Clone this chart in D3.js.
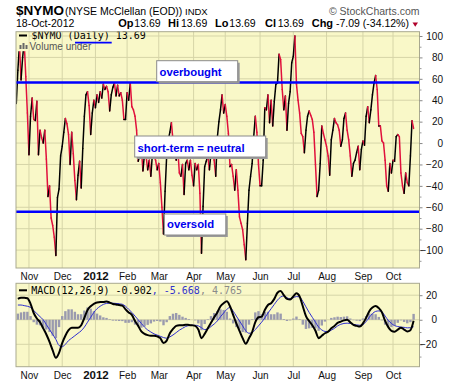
<!DOCTYPE html>
<html>
<head>
<meta charset="utf-8">
<script src="https://cdn.jsdelivr.net/npm/d3@7/dist/d3.min.js"></script>
<style>
body { margin: 0; background: #fff; }
svg text { font-family: "Liberation Sans", Arial, sans-serif; }
.mono { font-family: "DejaVu Sans Mono", monospace; }
</style>
</head>
<body>
<svg id="chart" width="460" height="383"></svg>
<script>
// $NYMO daily close, one value per trading day (20-Oct-2011 .. 18-Oct-2012)
var nymo = [
    37, 68, 92, 59, 80, 94, 62, 28, -11, 25,
    42, 22, 21, 39, -11, 12, 5, 0, 12, -15,
    -50, -40, -70, -77, -88, -105, -51, -43, -12, -3,
    10, 23, 18, 8, -20, 10, -10, -35, -53, -30,
    -17, -42, -5, 25, 45, 48, 35, 8, 28, 40,
    33, 45, 38, 48, 42, 55, 50, 53, 48, 30,
    45, 52, 56, 44, 54, 44, 47, 40, 22, 22,
    47, 40, 56, 34, 31, 25, 12, -17, -12, -5,
    -26, -10, -12, -25, -16, -31, -10, -12, -16, -25,
    -19, -37, -60, -85, -45, -12, 3, 10, 19, 2,
    -8, -16, -5, -28, -31, -20, -48, -19, -16, -25,
    -16, -30, -40, -19, -25, -20, -47, -103, -59, -22,
    -17, -12, -25, -9, -5, -16, -31, 5, 20, 31,
    45, 28, 36, 25, 9, -22, -20, -31, -44, -25,
    -44, -69, -75, -81, -95, -109, -75, -44, -31, -19,
    6, 25, 10, -20, -40, -40, -16, 33, 31, 45,
    19, 40, 16, 39, 55, 56, 83, 78, 50, 31,
    44, 12, 37, 48, 75, 81, 100, 55, 40, 28,
    9, 6, -9, 12, 25, 30, 26, 22, 10, -20,
    -50, -44, -19, 16, 9, 3, -3, -12, -30, 3,
    12, 23, 19, 17, 12, -3, 3, 23, 28, 12,
    3, -12, -31, -19, -16, -9, -3, -25, -6, 2,
    -2, 25, 34, 19, 31, 45, 56, 63, 50, 16,
    16, 2, 0, -16, -40, -45, -19, -28, -16, -17,
    6, 8, 6, -28, -40, -47, -28, -37, -40, -12,
    20.78, 13.69
];

// MACD(12,26,9), read every second trading day (days 1, 3, 5 ... 251)
var macdLine = [
    17, 18, 18, 17.5, 13, 5.5, 1, -2, -7, -12,
    -18, -25, -31, -27, -19, -13, -8.5, -6.5, -6.5, -6.5,
    -4.5, 1.5, 8, 11, 13, 14, 14.5, 14.5, 14.8, 14,
    12.8, 12.5, 12, 11.5, 8.5, 6, 4, -1, -5, -9.5,
    -11.5, -12.5, -13, -13, -13.5, -15, -19, -17, -11, -7.5,
    -5, -4.5, -4.5, -4, -4.2, -4.5, -5, -8, -15, -11.5,
    -7, -2.5, 2, 6, 11, 13.5, 15, 11, 4, -3,
    -9, -15, -19.5, -15, -10, -2, 2, 2.5, 8, 12,
    13.5, 17, 22, 23.5, 20, 17, 16.5, 19, 21.5, 19,
    11, 3, -1, -4.5, -9, -15, -13, -11, -9.7, -7,
    -5, -2.5, -1.5, -0.5, 0, -2, -4.2, -5, -5.6, -3,
    1.5, 7, 10, 11.3, 9.5, 6, -1, -6, -9, -9.7,
    -8, -6.5, -8, -9.5, -8.5, -0.902
];
var signalLine = [
    12, 12, 11.5, 11, 10, 7.5, 5, 2.5, 0, -4,
    -8, -12, -16, -21, -22, -20, -17, -15, -13, -11,
    -9, -6, -2, 2, 6, 9, 11, 12.5, 13.3, 13.5,
    13.5, 13.3, 13, 12.6, 11, 8.5, 6, 3, 0, -3,
    -6, -8.3, -10, -11.5, -12.5, -13.5, -14.5, -15, -14, -12.4,
    -10.5, -8.5, -7, -5.5, -4.8, -4.5, -4.5, -5, -6.5, -8,
    -7.5, -5.5, -3.5, -1, 2.5, 5.5, 8.5, 10, 7, 3,
    -1, -5, -9, -11, -10.5, -8, -5, -2, 1.5, 5.5,
    9, 12.5, 16, 18.5, 19.4, 18, 17, 18, 18.9, 18.5,
    15, 10.5, 6, 2, -2, -6, -8.3, -9.5, -9.7, -8.5,
    -7, -5, -3.7, -3, -2.8, -3, -3.8, -4.2, -4.5, -4,
    -1.5, 2, 5, 6.8, 7.2, 6.5, 3, -0.5, -3, -4.8,
    -5.5, -6, -6.2, -6.6, -6.5, -5.668
];
var macdHist = [
    5, 6, 6.5, 6.5, 3, -2, -4, -4.5, -7, -8,
    -10, -13, -15, -6, 3, 7, 8.5, 8.5, 6.5, 4.5,
    4.5, 7.5, 10, 9, 7, 5, 3.5, 2, 1.5, 0.5,
    -0.7, -0.8, -1, -1.1, -2.5, -2.5, -2, -4, -5, -6.5,
    -5.5, -4.2, -3, -1.5, -1, -1.5, -4.5, -2, 3, 4.9,
    5.5, 4, 2.5, 1.5, 0.6, 0, -0.5, -3, -8.5, -3.5,
    0.5, 3, 5.5, 7, 8.5, 8, 6.5, 1, -3, -6,
    -8, -10, -10.5, -4, 0.5, 6, 7, 4.5, 6.5, 6.5,
    4.5, 4.5, 6, 5, 0.6, -1, -0.5, 1, 2.6, 0.5,
    -4, -7.5, -7, -6.5, -7, -9, -4.7, -1.5, 0, 1.5,
    2, 2.5, 2.2, 2.5, 2.8, 1, -0.4, -0.8, -1.1, 1,
    3, 5, 5, 4.5, 2.3, -0.5, -4, -5.5, -6, -4.9,
    -2.5, -0.5, -1.8, -2.9, -2, 4.765
];

// month labels and the trading day each month starts on
var monthLabels = ["Nov", "Dec", "2012", "Feb", "Mar", "Apr", "May", "Jun", "Jul", "Aug", "Sep", "Oct"];
var monthDay = [8, 29, 50, 70, 90, 112, 132, 154, 175, 196, 219, 238];

var nymoTicks = [-100, -80, -60, -40, -20, 0, 20, 40, 60, 80, 100];
var macdTicks = [-20, 0, 20];
var bandLevels = [56.6, -64.2];
var noteLabels = ["overbought", "short-term = neutral", "oversold"];

// layout
var main = {left: 16, right: 419.5, top: 31.7, bottom: 268};
var lower = {left: 16, right: 419.5, top: 283.3, bottom: 366.7};
var noteBoxes = [
    {x: 156.7, y: 60.7, w: 81, h: 21, tx: 159.5, ty: 75.8},
    {x: 134.7, y: 136, w: 131, h: 21, tx: 137.5, ty: 152},
    {x: 164.3, y: 214, w: 61.5, h: 21, tx: 167, ty: 227.6}
];
var bg = "#f9f8c8", grid = "#d6d5a8", frame = "#a9a98f";

var svg = d3.select("#chart");

var x = d3.scaleLinear().domain([0, nymo.length - 1]).range([16.3, 413.6]);
var y1 = d3.scaleLinear().domain([-100, 100]).range([250.1, 36.0]);
var y2 = d3.scaleLinear().domain([-20, 20]).range([344.3, 295.2]);

function panel(p, y, ticks, id) {
    var g = svg.append("g");
    svg.append("clipPath").attr("id", id).append("rect")
        .attr("x", p.left).attr("y", p.top)
        .attr("width", p.right - p.left).attr("height", p.bottom - p.top);
    g.append("rect")
        .attr("x", p.left).attr("y", p.top)
        .attr("width", p.right - p.left).attr("height", p.bottom - p.top)
        .attr("fill", bg);
    g.selectAll("line.v").data(monthDay).join("line")
        .attr("class", "v")
        .attr("x1", function(d) { return x(d); }).attr("x2", function(d) { return x(d); })
        .attr("y1", p.top).attr("y2", p.bottom)
        .attr("stroke", grid).attr("stroke-width", 1);
    g.selectAll("line.h").data(ticks).join("line")
        .attr("class", "h")
        .attr("x1", p.left).attr("x2", p.right)
        .attr("y1", function(d) { return y(d); }).attr("y2", function(d) { return y(d); })
        .attr("stroke", grid).attr("stroke-width", 1);
    return g.append("g").attr("clip-path", "url(#" + id + ")");
}

function frameRect(p) {
    svg.append("rect")
        .attr("x", p.left).attr("y", p.top)
        .attr("width", p.right - p.left).attr("height", p.bottom - p.top)
        .attr("fill", "none").attr("stroke", frame).attr("stroke-width", 1);
}

function rightAxis(p, y, ticks, labelX, minor) {
    var ax = svg.append("g").attr("transform", "translate(" + p.right + ",0)")
        .call(d3.axisRight(y).tickValues(ticks).tickSize(3));
    ax.select(".domain").remove();
    ax.selectAll("line").attr("stroke", "#888");
    ax.selectAll("text")
        .attr("x", labelX).attr("text-anchor", "end")
        .attr("font-family", "Liberation Sans, Arial, sans-serif")
        .attr("font-size", 10).attr("fill", "#111");
    var mn = svg.append("g").attr("transform", "translate(" + p.right + ",0)")
        .call(d3.axisRight(y).tickValues(minor).tickSize(2).tickFormat(""));
    mn.select(".domain").remove();
    mn.selectAll("line").attr("stroke", "#999");
}

function monthAxis(yBase) {
    var ax = svg.append("g").attr("transform", "translate(0," + yBase + ")")
        .call(d3.axisBottom(x).tickValues(monthDay).tickSize(0)
            .tickFormat(function(d, i) { return monthLabels[i]; }));
    ax.select(".domain").remove();
    ax.selectAll("text")
        .attr("y", 0).attr("dy", 0)
        .attr("font-family", "Liberation Sans, Arial, sans-serif")
        .attr("fill", "#111")
        .attr("font-size", function(d, i) { return monthLabels[i] === "2012" ? 11.5 : 10; })
        .attr("font-weight", function(d, i) { return monthLabels[i] === "2012" ? "bold" : "normal"; });
}

// ---- main panel ----
var g1 = panel(main, y1, nymoTicks, "clipMain");

var segs = d3.pairs(nymo.map(function(v, i) { return [i, v]; }));
g1.selectAll("line.seg").data(segs).join("line")
    .attr("class", "seg")
    .attr("x1", function(d) { return x(d[0][0]); })
    .attr("y1", function(d) { return y1(d[0][1]); })
    .attr("x2", function(d) { return x(d[1][0]); })
    .attr("y2", function(d) { return y1(d[1][1]); })
    .attr("stroke", function(d) { return d[1][1] >= d[0][1] ? "#000" : "#e0103c"; })
    .attr("stroke-width", 1.5)
    .attr("stroke-linecap", "round");

g1.selectAll("line.band").data(bandLevels).join("line")
    .attr("class", "band")
    .attr("x1", main.left).attr("x2", main.right)
    .attr("y1", function(d) { return y1(d); }).attr("y2", function(d) { return y1(d); })
    .attr("stroke", "#0000ff").attr("stroke-width", 2.5);

// legend (sits on the panel background)
svg.append("rect").attr("x", 16.5).attr("y", 32.2).attr("width", 12).attr("height", 19).attr("fill", bg);
svg.append("line").attr("x1", 19).attr("x2", 27).attr("y1", 35.5).attr("y2", 35.5)
    .attr("stroke", "#000").attr("stroke-width", 2);
svg.append("text").attr("class", "mono").attr("x", 31.5).attr("y", 38.6)
    .attr("font-size", 10).attr("fill", "#000").text("$NYMO (Daily) 13.69");
[0, 3, 6].forEach(function(o, k) {
    svg.append("rect").attr("x", 19.5 + o).attr("y", 44 + (k === 1 ? -1 : 1))
        .attr("width", 2).attr("height", 5 - (k === 1 ? -1 : 1)).attr("fill", "#666");
});
svg.append("text").attr("x", 29.5).attr("y", 49.5).attr("font-size", 10)
    .attr("fill", "#555").text("Volume under");
svg.append("line").attr("x1", 75).attr("x2", 111.7).attr("y1", 42.7).attr("y2", 42.7)
    .attr("stroke", "#0000ff").attr("stroke-width", 1.8);

// notes
noteBoxes.forEach(function(b, i) {
    svg.append("rect").attr("x", b.x + 2).attr("y", b.y + 2).attr("width", b.w).attr("height", b.h)
        .attr("fill", "#9a9a9a");
    svg.append("rect").attr("x", b.x).attr("y", b.y).attr("width", b.w).attr("height", b.h)
        .attr("fill", "#fff").attr("stroke", "#8a8a8a").attr("stroke-width", 1);
    svg.append("text").attr("x", b.tx).attr("y", b.ty)
        .attr("font-size", 11.3).attr("font-weight", "bold").attr("fill", "#0000ee")
        .text(noteLabels[i]);
});

frameRect(main);
rightAxis(main, y1, nymoTicks, 23.5, [-110, -90, -70, -50, -30, -10, 10, 30, 50, 70, 90]);
monthAxis(279.5);

// ---- MACD panel ----
var g2 = panel(lower, y2, macdTicks, "clipLower");
var macdDay = function(k) { return 1 + 2 * k; };

g2.selectAll("rect.hist").data(macdHist).join("rect")
    .attr("class", "hist")
    .attr("x", function(d, k) { return x(macdDay(k)) - 1.2; })
    .attr("width", 2.4)
    .attr("y", function(d) { return Math.min(y2(0), y2(d)); })
    .attr("height", function(d) { return Math.abs(y2(d) - y2(0)); })
    .attr("fill", "#9a9aae");

var ln = d3.line()
    .x(function(d, k) { return x(macdDay(k)); })
    .y(function(d) { return y2(d); })
    .curve(d3.curveMonotoneX);

g2.append("path").datum(signalLine).attr("d", ln)
    .attr("fill", "none").attr("stroke", "#2f2fd0").attr("stroke-width", 1);
g2.append("path").datum(macdLine).attr("d", ln)
    .attr("fill", "none").attr("stroke", "#000").attr("stroke-width", 2);

svg.append("line").attr("x1", 19).attr("x2", 27).attr("y1", 290.3).attr("y2", 290.3)
    .attr("stroke", "#000").attr("stroke-width", 2);
var leg = svg.append("text").attr("class", "mono").attr("x", 31.3).attr("y", 294.2).attr("font-size", 10);
leg.append("tspan").attr("fill", "#000").text("MACD(12,26,9) -0.902");
leg.append("tspan").attr("fill", "#3333cc").text(", -5.668");
leg.append("tspan").attr("fill", "#8a8a8a").text(", 4.765");

frameRect(lower);
rightAxis(lower, y2, macdTicks, 17.5, [-30, -10, 10]);
monthAxis(378.6);

// ---- header ----
svg.append("text").attr("x", 16).attr("y", 15).attr("font-size", 13.5)
    .attr("font-weight", "bold").attr("fill", "#000").text("$NYMO");
svg.append("text").attr("x", 65).attr("y", 15).attr("font-size", 10.5)
    .attr("fill", "#000").text("(NYSE McClellan (EOD))");
svg.append("text").attr("x", 185).attr("y", 15).attr("font-size", 9.5)
    .attr("font-family", "DejaVu Sans, Verdana, sans-serif").attr("fill", "#000").text("INDX");
svg.append("text").attr("x", 419.5).attr("y", 15).attr("font-size", 10.5)
    .attr("text-anchor", "end").attr("fill", "#555").text("\u00a9 StockCharts.com");

svg.append("text").attr("x", 16).attr("y", 26.7).attr("font-size", 10.5)
    .attr("fill", "#000").text("18-Oct-2012");

var quote = [
    {t: "Op", x: 118.3, b: true}, {t: "13.69", x: 134.3},
    {t: "Hi", x: 168, b: true}, {t: "13.69", x: 181},
    {t: "Lo", x: 215, b: true}, {t: "13.69", x: 229.3},
    {t: "Cl", x: 265, b: true}, {t: "13.69", x: 277.7},
    {t: "Chg", x: 311.7, b: true}, {t: "-7.09 (-34.12%)", x: 336}
];
quote.forEach(function(q) {
    svg.append("text").attr("x", q.x).attr("y", 26.7)
        .attr("font-size", q.b ? 11 : 10.5)
        .attr("font-weight", q.b ? "bold" : "normal")
        .attr("fill", "#000").text(q.t);
});
svg.append("path").attr("d", "M412.5,22.5 L418,22.5 L415.25,26.8 Z").attr("fill", "#b0002a");
</script>
</body>
</html>
